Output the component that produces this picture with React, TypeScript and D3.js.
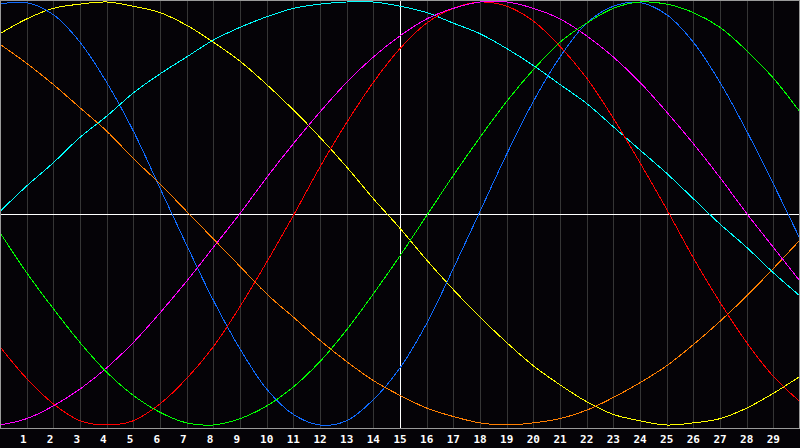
import React from "react";
import * as d3 from "d3";

// x positions 0..30, one value per integer step
const xTicks = d3.range(0, 31);
const tickLabels = d3.range(1, 30).map(String);

const yellowVals = [0.85, 0.92, 0.97, 0.99, 1.0, 0.98, 0.95, 0.89, 0.81, 0.72, 0.61, 0.49, 0.36, 0.22, 0.07, -0.07, -0.22, -0.36, -0.49, -0.61, -0.72, -0.81, -0.89, -0.95, -0.98, -1.0, -0.99, -0.97, -0.92, -0.85, -0.77];
const blueVals = [0.99, 0.997, 0.94, 0.81, 0.62, 0.39, 0.12, -0.15, -0.41, -0.64, -0.83, -0.95, -1.0, -0.98, -0.88, -0.73, -0.52, -0.26, 0.01, 0.28, 0.53, 0.74, 0.9, 0.98, 0.997, 0.94, 0.81, 0.62, 0.39, 0.14, -0.12];
const orangeVals = [0.8, 0.71, 0.61, 0.5, 0.39, 0.26, 0.14, 0.01, -0.12, -0.25, -0.38, -0.49, -0.6, -0.7, -0.79, -0.86, -0.92, -0.96, -0.99, -1.0, -0.99, -0.97, -0.93, -0.87, -0.8, -0.72, -0.62, -0.51, -0.39, -0.26, -0.125];
const cyanVals = [0.01, 0.13, 0.24, 0.36, 0.46, 0.57, 0.66, 0.74, 0.82, 0.88, 0.93, 0.97, 0.99, 1.0, 1.0, 0.98, 0.95, 0.9, 0.85, 0.78, 0.7, 0.61, 0.52, 0.41, 0.3, 0.19, 0.07, -0.05, -0.16, -0.28, -0.39];
const redVals = [-0.63, -0.78, -0.9, -0.98, -1.0, -0.98, -0.9, -0.78, -0.63, -0.44, -0.23, -0.01, 0.22, 0.43, 0.62, 0.78, 0.9, 0.97, 1.0, 0.98, 0.91, 0.79, 0.64, 0.45, 0.24, 0.02, -0.21, -0.42, -0.61, -0.77, -0.89];
const magentaVals = [-1.0, -0.97, -0.91, -0.83, -0.73, -0.61, -0.47, -0.32, -0.16, 0.0, 0.17, 0.33, 0.48, 0.62, 0.74, 0.84, 0.92, 0.97, 1.0, 1.0, 0.97, 0.92, 0.84, 0.74, 0.62, 0.48, 0.33, 0.17, 0.0, -0.16, -0.32];
const greenVals = [-0.09, -0.28, -0.45, -0.61, -0.75, -0.86, -0.94, -0.99, -1.0, -0.97, -0.91, -0.82, -0.7, -0.55, -0.38, -0.2, -0.01, 0.18, 0.36, 0.53, 0.68, 0.81, 0.9, 0.97, 1.0, 0.99, 0.95, 0.88, 0.77, 0.64, 0.48];

const series = [
  { name: "yellow", color: "#ffff00", values: yellowVals },
  { name: "blue", color: "#0f6bff", values: blueVals },
  { name: "orange", color: "#ff7f00", values: orangeVals },
  { name: "cyan", color: "#00ffff", values: cyanVals },
  { name: "red", color: "#ff0000", values: redVals },
  { name: "magenta", color: "#ff00ff", values: magentaVals },
  { name: "green", color: "#00ff00", values: greenVals },
];

const width = 800;
const height = 448;
const plotBottom = 428;

const App = () => {
  React.useEffect(() => {
    document.body.style.margin = "0";
    document.body.style.background = "#000";
  }, []);

  const x = d3.scaleLinear().domain([0, 30]).range([0, width]);
  const y = d3.scaleLinear().domain([-1, 1]).range([425, 2]);

  const line = d3
    .line<number>()
    .x((d, i) => x(xTicks[i]))
    .y((d) => y(d))
    .curve(d3.curveCatmullRom);

  const snap = (v: number) => Math.round(v) + 0.5;

  return (
    <svg width={width} height={height} style={{ display: "block", background: "#050307" }}>
      <rect x={0} y={0} width={width} height={height} fill="#050307" />
      {/* vertical grid */}
      {tickLabels.map((t) => (
        <line
          key={"g" + t}
          x1={snap(x(+t))}
          x2={snap(x(+t))}
          y1={0}
          y2={plotBottom}
          stroke="#353535"
          strokeWidth={1}
          shapeRendering="crispEdges"
        />
      ))}
      {/* axes cross */}
      <line x1={0} x2={width} y1={snap(y(0))} y2={snap(y(0))} stroke="#ffffff" shapeRendering="crispEdges" />
      <line x1={snap(x(15))} x2={snap(x(15))} y1={0} y2={plotBottom} stroke="#ffffff" shapeRendering="crispEdges" />
      {/* curves */}
      <g clipPath="url(#plotClip)">
        {series.map((s) => (
          <path
            key={s.name}
            d={line(s.values) || ""}
            fill="none"
            stroke={s.color}
            strokeWidth={1}
            shapeRendering="crispEdges"
          />
        ))}
      </g>
      <defs>
        <clipPath id="plotClip">
          <rect x={0} y={0} width={width} height={plotBottom} />
        </clipPath>
      </defs>
      {/* frame */}
      <rect x={0.5} y={0.5} width={width - 1} height={plotBottom} fill="none" stroke="#9a9a9a" shapeRendering="crispEdges" />
      {/* labels */}
      {tickLabels.map((t) => (
        <text
          key={"l" + t}
          x={x(+t) - 6.6}
          y={443}
          fill="#ffffff"
          fontFamily="DejaVu Sans Mono"
          fontWeight="bold"
          fontSize={11}
        >
          {t}
        </text>
      ))}
    </svg>
  );
};

export default App;
